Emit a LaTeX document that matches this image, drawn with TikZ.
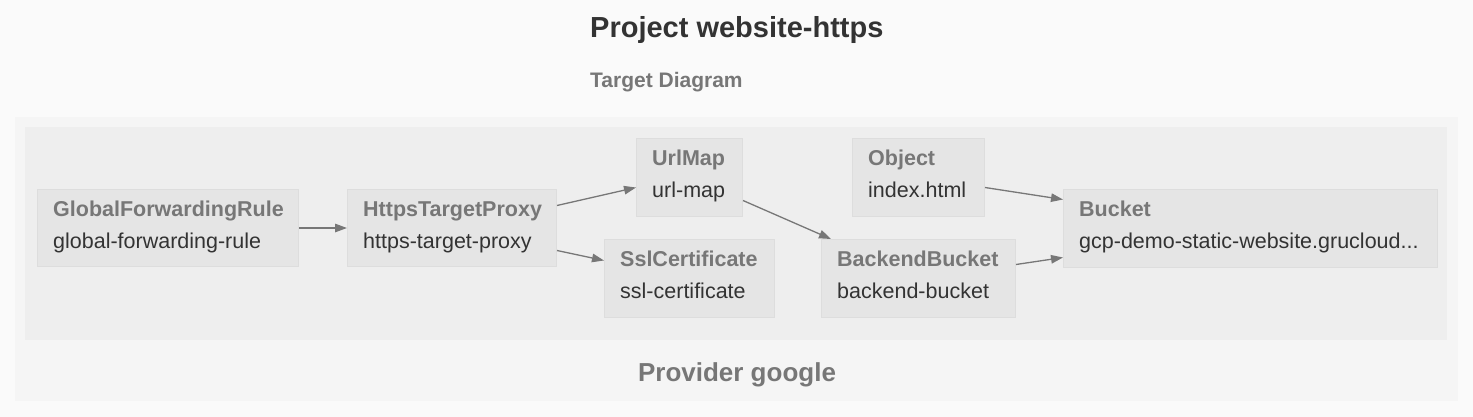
\documentclass[tikz,border=0pt]{standalone}
\usepackage{fontspec}
\setmainfont{Liberation Sans}
\usetikzlibrary{arrows.meta,positioning,calc}
\definecolor{bgc}{HTML}{FAFAFA}
\definecolor{outerc}{HTML}{F5F5F5}
\definecolor{innerc}{HTML}{EEEEEE}
\definecolor{boxc}{HTML}{E5E5E5}
\definecolor{boxline}{HTML}{DDDDDD}
\definecolor{graytxt}{HTML}{777777}
\definecolor{darktxt}{HTML}{333333}
\definecolor{edgec}{HTML}{777777}
\tikzset{
  resbox/.style={draw=boxline, fill=boxc, line width=1pt, inner sep=0pt, anchor=north west},
  ttl/.style={font=\fontsize{21.5}{24}\selectfont\bfseries, text=graytxt, inner sep=0pt, anchor=base west},
  sub/.style={font=\fontsize{21.5}{24}\selectfont, text=darktxt, inner sep=0pt, anchor=base west},
  edge/.style={draw=edgec, line width=1.3pt, -{Triangle[length=12pt,width=8.5pt]}},
}
\newcommand{\resnode}[7]{%
  \node[resbox, minimum width=#4pt, minimum height=#5pt] (#1) at (#2,-#3) {};
  \node[ttl] (#1-t) at ([shift={(16pt,-27pt)}]#1.north west) {#6};
  \node[sub] (#1-s) at ([shift={(16pt,-59pt)}]#1.north west) {#7};
}
\begin{document}
\begin{tikzpicture}[x=1pt,y=1pt]
\useasboundingbox (0,0) rectangle (1473,-417);
\fill[bgc] (0,0) rectangle (1473,-417);
\fill[outerc] (15,-117) rectangle (1458,-401);
\fill[innerc] (25,-127) rectangle (1447,-340);
\node[inner sep=0pt, anchor=base west, font=\fontsize{29}{32}\selectfont\bfseries, text=darktxt] (title) at (590,-38) {Project website-https};
\node[inner sep=0pt, anchor=base west, font=\fontsize{21}{24}\selectfont\bfseries, text=graytxt] (subtitle) at (590,-88) {Target Diagram};
\node[inner sep=0pt, anchor=base, font=\fontsize{26}{30}\selectfont\bfseries, text=graytxt] (provider) at (737,-381) {Provider google};
\resnode{gfr}{37}{189}{261}{77}{GlobalForwardingRule}{global-forwarding-rule}
\resnode{htp}{347}{189}{209}{77}{HttpsTargetProxy}{https-target-proxy}
\resnode{urlmap}{636}{138}{106}{78}{UrlMap}{url-map}
\resnode{ssl}{604}{239}{170}{78}{SslCertificate}{ssl-certificate}
\resnode{obj}{852}{138}{132}{78}{Object}{index.html}
\resnode{bb}{821}{239}{194}{78}{BackendBucket}{backend-bucket}
\resnode{bucket}{1063}{189}{374}{78}{Bucket}{gcp-demo-static-website.grucloud...}
\draw[edge] (gfr.east) -- (htp.west);
\draw[edge] ([yshift=22.5pt]htp.east) -- ([yshift=-10pt]urlmap.west);
\draw[edge] ([yshift=-22.5pt]htp.east) -- ([yshift=18pt]ssl.west);
\draw[edge] ([yshift=-23pt]urlmap.east) -- ([xshift=10pt]bb.north west);
\draw[edge] ([yshift=-10pt]obj.east) -- ([yshift=29pt]bucket.west);
\draw[edge] ([yshift=14pt]bb.east) -- ([yshift=-29pt]bucket.west);
\end{tikzpicture}
\end{document}
